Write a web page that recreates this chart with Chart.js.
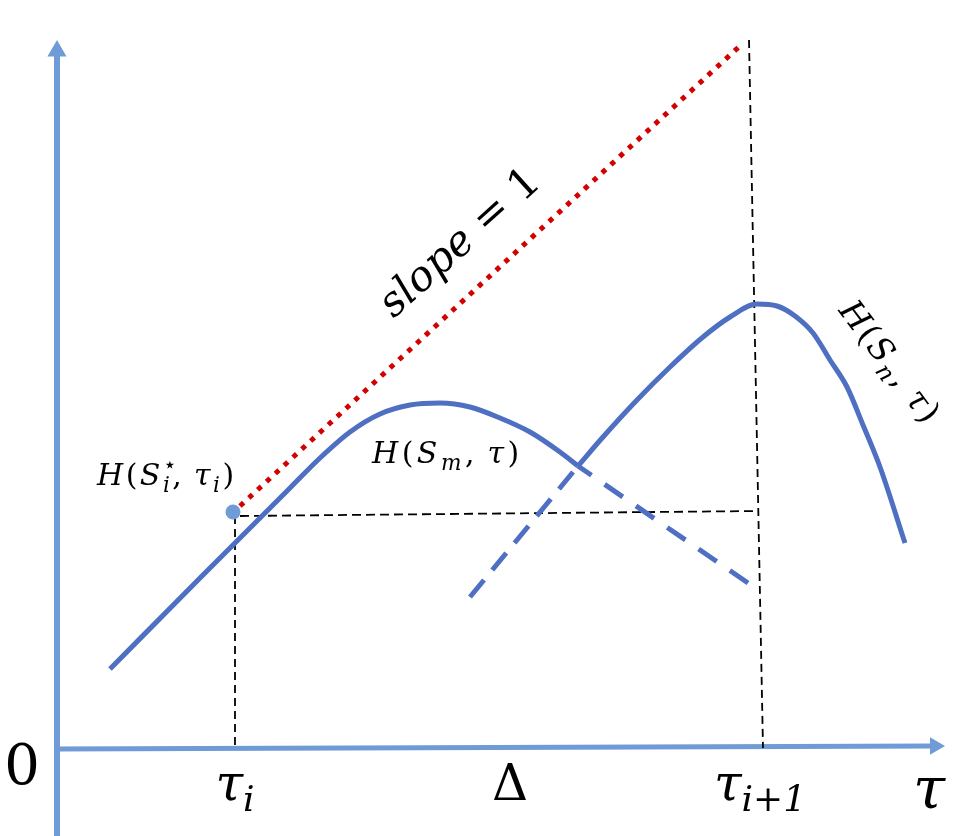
<!DOCTYPE html>
<html>
<head>
<meta charset="utf-8">
<script src="https://cdn.jsdelivr.net/npm/chart.js@4.4.0/dist/chart.umd.min.js"></script>
<style>
  html, body { margin: 0; padding: 0; background: #fff; }
  #wrap { width: 968px; height: 836px; }
</style>
</head>
<body>
<div id="wrap"><canvas id="chart" width="968" height="836"></canvas></div>
<script>
// plot units: tau along x, H along y, origin where the two axes meet
const hmTau = [0.53, 1.43, 2.33, 2.63, 2.93, 3.23, 3.53, 3.83, 4.13, 4.43, 4.73, 5.03, 5.21];
const hmVal = [0.79, 1.70, 2.60, 2.90, 3.16, 3.34, 3.43, 3.45, 3.41, 3.30, 3.16, 2.96, 2.82];

const hnTau = [5.21, 5.46, 5.80, 6.13, 6.46, 6.73, 7.00, 7.20, 7.38, 7.56, 7.73, 7.90, 8.06, 8.23, 8.48];
const hnVal = [2.82, 3.11, 3.48, 3.81, 4.11, 4.31, 4.44, 4.42, 4.32, 4.15, 3.88, 3.61, 3.23, 2.81, 2.05];

// dashed continuations past the crossing
const hmDashTau = [6.91, 5.21];
const hmDashVal = [1.65, 2.82];
const hnDashTau = [4.13, 5.21];
const hnDashVal = [1.51, 2.82];

// slope = 1 bound starting at H(S_i*, tau_i)
const slopeTau = [1.83, 6.85];
const slopeVal = [2.42, 7.04];

const starTau = 1.76;
const starVal = 2.36;

// guide lines
const guideTauI = { tau: [1.78, 1.78], val: [2.32, 0] };
const guideLevel = { tau: [1.83, 7.02], val: [2.32, 2.37] };
const guideTauI1 = { tau: [6.92, 7.06], val: [7.08, 0] };

// axes
const xAxisTau = [-0.03, 8.78];
const xAxisVal = [-0.01, 0.02];
const yAxisTau = [0, 0];
const yAxisVal = [-0.88, 6.97];

const tickTau = [1.78, 4.53, 7.03];
const tickLabels = [
  [['τ', 'i'], ['i', 'sub']],
  [['Δ', 'r']],
  [['τ', 'i'], ['i+1', 'sub']]
];

const AXIS = '#6f9bd6';
const CURVE = '#4e6fc2';
const RED = '#d40000';
const SERIF = '"DejaVu Serif", "Liberation Serif", serif';

const pts = (xs, ys) => xs.map((x, i) => ({ x, y: ys[i] }));

// text labels, drawn through the scales
const texts = [
  { at: [0.40, 2.63], size: 30, pad: 2.5, align: 'left', runs: [['H', 'i'], ['(', 'r'], ['S', 'i'], ['⋆', 'sup'], ['i', 'sub'], [', ', 'r'], ['τ', 'i'], ['i', 'sub'], [')', 'r']] },
  { at: [3.15, 2.85], size: 30, pad: 3.5, align: 'left', runs: [['H', 'i'], ['(', 'r'], ['S', 'i'], ['m', 'sub'], [', ', 'r'], ['τ', 'i'], [')', 'r']] },
  { at: [4.11, 4.96], size: 42, align: 'center', rot: -42, runs: [['slope', 'i'], [' = ', 'r'], ['1', 'r']] },
  { at: [8.24, 3.80], size: 33, pad: 2, align: 'center', rot: 53, runs: [['H', 'i'], ['(', 'r'], ['S', 'i'], ['n', 'sub'], [', ', 'r'], ['τ', 'i'], [')', 'r']] },
  { at: [-0.35, -0.36], size: 56, align: 'center', runs: [['0', 'r']] },
  { at: [8.72, -0.60], size: 58, align: 'center', runs: [['τ', 'i']] }
];
tickTau.forEach((t, i) => texts.push({ at: [t, -0.52], size: 50, align: 'center', runs: tickLabels[i] }));

function runFont(kind, size) {
  const s = (kind === 'sub' || kind === 'sup') ? size * 0.72 : size;
  const it = (kind === 'i' || kind === 'sub');
  return (it ? 'italic ' : '') + s + 'px ' + SERIF;
}

const mathText = {
  id: 'mathText',
  afterDatasetsDraw(chart) {
    const ctx = chart.ctx;
    const sx = chart.scales.x, sy = chart.scales.y;
    texts.forEach(lb => {
      const pad = lb.pad || 0;
      let w = 0;
      const items = lb.runs.map(([t, kind], k) => {
        const font = runFont(kind, lb.size);
        ctx.font = font;
        const adv = ctx.measureText(t).width;
        const it = { t, font, x: w, dy: 0 };
        if (kind === 'sub') it.dy = lb.size * 0.22;
        if (kind === 'sup') it.dy = -lb.size * 0.42;
        if (kind !== 'sup') w += adv + (k < lb.runs.length - 1 ? pad : 0);
        return it;
      });
      const ox = lb.align === 'center' ? -w / 2 : 0;
      ctx.save();
      ctx.translate(sx.getPixelForValue(lb.at[0]), sy.getPixelForValue(lb.at[1]));
      if (lb.rot) ctx.rotate(lb.rot * Math.PI / 180);
      ctx.fillStyle = '#000';
      ctx.textBaseline = 'alphabetic';
      ctx.textAlign = 'left';
      items.forEach(it => {
        ctx.font = it.font;
        ctx.fillText(it.t, ox + it.x, it.dy);
      });
      ctx.restore();
    });
  }
};

const line = (data, color, width, extra) => Object.assign({
  data, showLine: true, borderColor: color, borderWidth: width,
  pointRadius: 0, fill: false
}, extra || {});

new Chart(document.getElementById('chart'), {
  type: 'scatter',
  data: {
    datasets: [
      { data: [{ x: starTau, y: starVal }], pointRadius: 7.5, pointBackgroundColor: AXIS, pointBorderWidth: 0, showLine: false },
      line(pts(slopeTau, slopeVal), RED, 5, { borderDash: [5, 7], borderCapStyle: 'butt' }),
      line(pts(hmTau, hmVal), CURVE, 5, { cubicInterpolationMode: 'monotone' }),
      line(pts(hnTau, hnVal), CURVE, 5, { cubicInterpolationMode: 'monotone' }),
      line(pts(hmDashTau, hmDashVal), CURVE, 5, { borderDash: [22, 16], borderCapStyle: 'butt' }),
      line(pts(hnDashTau, hnDashVal), CURVE, 5, { borderDash: [22, 13], borderCapStyle: 'butt' }),
      line(pts(guideTauI.tau, guideTauI.val), '#000', 1.8, { borderDash: [8, 5] }),
      line(pts(guideLevel.tau, guideLevel.val), '#000', 1.8, { borderDash: [9, 5] }),
      line(pts(guideTauI1.tau, guideTauI1.val), '#000', 1.8, { borderDash: [8, 5] }),
      line(pts(xAxisTau, xAxisVal), AXIS, 5, { pointRadius: [0, 10], pointStyle: 'triangle', pointRotation: 90, pointBackgroundColor: AXIS, pointBorderWidth: 0 }),
      line(pts(yAxisTau, yAxisVal), AXIS, 6, { pointRadius: [0, 11], pointStyle: 'triangle', pointRotation: 0, pointBackgroundColor: AXIS, pointBorderWidth: 0 })
    ]
  },
  options: {
    responsive: false,
    animation: false,
    events: [],
    layout: { padding: 0, autoPadding: false },
    plugins: { legend: { display: false }, tooltip: { enabled: false } },
    scales: {
      x: { type: 'linear', min: -0.57, max: 9.11, display: false },
      y: { type: 'linear', min: -0.88, max: 7.48, display: false }
    }
  },
  plugins: [mathText]
});
</script>
</body>
</html>
